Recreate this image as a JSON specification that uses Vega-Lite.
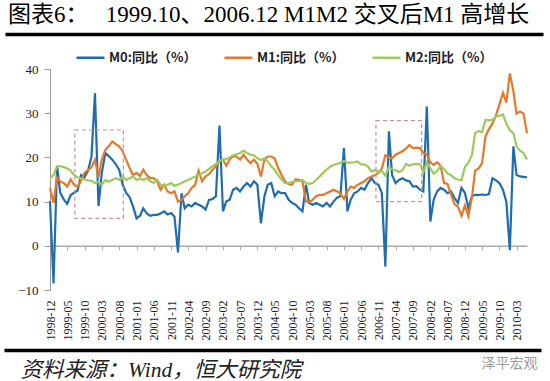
{
  "$schema": "https://vega.github.io/schema/vega-lite/v6.json",
  "width": 477,
  "height": 221,
  "autosize": {"type": "none"},
  "padding": {"left": 50, "top": 69, "right": 23, "bottom": 91},
  "background": "white",
  "config": {"view": {"stroke": null}},
  "title": {
    "text": "图表6：\u00a0\u00a0\u00a01999.10、2006.12 M1M2 交叉后M1 高增长",
    "anchor": "start",
    "frame": "group",
    "dx": -42,
    "offset": 7,
    "font": "Liberation Serif, Noto Sans CJK SC",
    "fontSize": 23,
    "fontWeight": "normal",
    "color": "#000000"
  },
  "datasets": {
    "m": [
      {"d":"1998-12","M0":10.1,"M1":13.0,"M2":15.3},
      {"d":"1999-01","M0":-8.5,"M1":9.7,"M2":16.0},
      {"d":"1999-02","M0":18.1,"M1":15.5,"M2":18.0},
      {"d":"1999-03","M0":12.0,"M1":14.5,"M2":18.0},
      {"d":"1999-04","M0":10.5,"M1":14.2,"M2":17.8},
      {"d":"1999-05","M0":9.5,"M1":13.4,"M2":17.5},
      {"d":"1999-06","M0":11.5,"M1":15.0,"M2":17.0},
      {"d":"1999-07","M0":12.0,"M1":13.8,"M2":16.0},
      {"d":"1999-08","M0":12.5,"M1":13.4,"M2":15.5},
      {"d":"1999-09","M0":16.0,"M1":14.8,"M2":15.2},
      {"d":"1999-10","M0":15.5,"M1":16.5,"M2":15.0},
      {"d":"1999-11","M0":17.0,"M1":17.2,"M2":14.8},
      {"d":"1999-12","M0":20.1,"M1":17.7,"M2":14.7},
      {"d":"2000-01","M0":34.5,"M1":19.5,"M2":14.2},
      {"d":"2000-02","M0":9.0,"M1":15.5,"M2":14.5},
      {"d":"2000-03","M0":16.5,"M1":19.5,"M2":13.8},
      {"d":"2000-04","M0":21.0,"M1":21.7,"M2":14.9},
      {"d":"2000-05","M0":20.3,"M1":22.5,"M2":14.5},
      {"d":"2000-06","M0":19.5,"M1":23.6,"M2":14.9},
      {"d":"2000-07","M0":18.5,"M1":23.0,"M2":15.3},
      {"d":"2000-08","M0":17.2,"M1":22.5,"M2":14.9},
      {"d":"2000-09","M0":13.8,"M1":21.4,"M2":15.7},
      {"d":"2000-10","M0":12.0,"M1":19.5,"M2":14.9},
      {"d":"2000-11","M0":11.0,"M1":17.6,"M2":15.3},
      {"d":"2000-12","M0":8.9,"M1":16.0,"M2":15.7},
      {"d":"2001-01","M0":6.2,"M1":16.5,"M2":14.9},
      {"d":"2001-02","M0":6.8,"M1":15.8,"M2":15.3},
      {"d":"2001-03","M0":8.5,"M1":17.2,"M2":14.9},
      {"d":"2001-04","M0":7.3,"M1":16.0,"M2":15.3},
      {"d":"2001-05","M0":6.8,"M1":15.3,"M2":14.6},
      {"d":"2001-06","M0":7.0,"M1":15.3,"M2":14.2},
      {"d":"2001-07","M0":7.0,"M1":14.6,"M2":14.9},
      {"d":"2001-08","M0":7.3,"M1":12.7,"M2":13.8},
      {"d":"2001-09","M0":7.8,"M1":13.8,"M2":13.4},
      {"d":"2001-10","M0":7.1,"M1":12.3,"M2":13.8},
      {"d":"2001-11","M0":7.4,"M1":11.9,"M2":14.2},
      {"d":"2001-12","M0":6.6,"M1":12.3,"M2":13.6},
      {"d":"2002-01","M0":-1.5,"M1":10.0,"M2":13.8},
      {"d":"2002-02","M0":11.9,"M1":10.4,"M2":14.2},
      {"d":"2002-03","M0":8.5,"M1":11.2,"M2":14.6},
      {"d":"2002-04","M0":9.3,"M1":11.9,"M2":14.9},
      {"d":"2002-05","M0":8.9,"M1":13.1,"M2":15.3},
      {"d":"2002-06","M0":9.7,"M1":13.8,"M2":15.7},
      {"d":"2002-07","M0":9.3,"M1":17.0,"M2":16.0},
      {"d":"2002-08","M0":8.9,"M1":14.6,"M2":16.4},
      {"d":"2002-09","M0":8.2,"M1":15.7,"M2":16.8},
      {"d":"2002-10","M0":10.4,"M1":16.2,"M2":17.4},
      {"d":"2002-11","M0":10.6,"M1":17.2,"M2":18.0},
      {"d":"2002-12","M0":11.2,"M1":18.0,"M2":18.5},
      {"d":"2003-01","M0":27.2,"M1":19.1,"M2":19.2},
      {"d":"2003-02","M0":7.8,"M1":19.5,"M2":19.5},
      {"d":"2003-03","M0":10.0,"M1":18.1,"M2":19.6},
      {"d":"2003-04","M0":10.4,"M1":19.5,"M2":20.0},
      {"d":"2003-05","M0":12.7,"M1":20.3,"M2":20.5},
      {"d":"2003-06","M0":13.1,"M1":20.2,"M2":20.7},
      {"d":"2003-07","M0":12.3,"M1":19.5,"M2":21.0},
      {"d":"2003-08","M0":13.4,"M1":20.6,"M2":21.5},
      {"d":"2003-09","M0":14.2,"M1":19.5,"M2":21.0},
      {"d":"2003-10","M0":13.4,"M1":18.7,"M2":20.6},
      {"d":"2003-11","M0":14.6,"M1":19.5,"M2":20.5},
      {"d":"2003-12","M0":13.8,"M1":18.5,"M2":19.8},
      {"d":"2004-01","M0":5.1,"M1":15.7,"M2":19.4},
      {"d":"2004-02","M0":11.2,"M1":19.5,"M2":19.8},
      {"d":"2004-03","M0":13.8,"M1":20.2,"M2":19.1},
      {"d":"2004-04","M0":14.2,"M1":20.2,"M2":18.0},
      {"d":"2004-05","M0":11.2,"M1":19.8,"M2":17.2},
      {"d":"2004-06","M0":12.3,"M1":17.6,"M2":16.0},
      {"d":"2004-07","M0":11.9,"M1":16.0,"M2":15.0},
      {"d":"2004-08","M0":11.9,"M1":14.6,"M2":14.2},
      {"d":"2004-09","M0":10.4,"M1":14.0,"M2":14.2},
      {"d":"2004-10","M0":9.7,"M1":13.8,"M2":14.4},
      {"d":"2004-11","M0":9.3,"M1":15.0,"M2":14.6},
      {"d":"2004-12","M0":8.5,"M1":14.9,"M2":14.6},
      {"d":"2005-01","M0":7.8,"M1":14.6,"M2":14.9},
      {"d":"2005-02","M0":13.8,"M1":10.0,"M2":14.2},
      {"d":"2005-03","M0":9.7,"M1":9.9,"M2":14.0},
      {"d":"2005-04","M0":9.3,"M1":10.4,"M2":14.2},
      {"d":"2005-05","M0":9.7,"M1":11.2,"M2":14.9},
      {"d":"2005-06","M0":9.3,"M1":11.5,"M2":15.7},
      {"d":"2005-07","M0":8.9,"M1":11.5,"M2":16.5},
      {"d":"2005-08","M0":9.7,"M1":11.9,"M2":17.2},
      {"d":"2005-09","M0":8.9,"M1":12.3,"M2":17.9},
      {"d":"2005-10","M0":10.0,"M1":12.7,"M2":18.3},
      {"d":"2005-11","M0":10.9,"M1":12.3,"M2":18.5},
      {"d":"2005-12","M0":11.2,"M1":11.8,"M2":18.8},
      {"d":"2006-01","M0":22.1,"M1":10.6,"M2":19.2},
      {"d":"2006-02","M0":7.8,"M1":12.3,"M2":18.8},
      {"d":"2006-03","M0":10.4,"M1":13.4,"M2":18.8},
      {"d":"2006-04","M0":11.9,"M1":13.1,"M2":18.9},
      {"d":"2006-05","M0":12.3,"M1":13.8,"M2":19.1},
      {"d":"2006-06","M0":13.1,"M1":14.2,"M2":18.4},
      {"d":"2006-07","M0":12.7,"M1":14.6,"M2":18.4},
      {"d":"2006-08","M0":14.2,"M1":15.3,"M2":17.9},
      {"d":"2006-09","M0":15.3,"M1":15.7,"M2":16.8},
      {"d":"2006-10","M0":14.2,"M1":16.0,"M2":17.1},
      {"d":"2006-11","M0":13.8,"M1":16.5,"M2":16.8},
      {"d":"2006-12","M0":11.9,"M1":17.5,"M2":16.9},
      {"d":"2007-01","M0":-4.7,"M1":20.5,"M2":15.9},
      {"d":"2007-02","M0":25.9,"M1":20.0,"M2":17.8},
      {"d":"2007-03","M0":16.0,"M1":19.8,"M2":17.3},
      {"d":"2007-04","M0":14.2,"M1":20.6,"M2":17.1},
      {"d":"2007-05","M0":14.9,"M1":21.0,"M2":16.7},
      {"d":"2007-06","M0":15.3,"M1":21.4,"M2":17.1},
      {"d":"2007-07","M0":14.8,"M1":22.0,"M2":18.5},
      {"d":"2007-08","M0":14.6,"M1":22.8,"M2":18.1},
      {"d":"2007-09","M0":13.4,"M1":22.1,"M2":18.5},
      {"d":"2007-10","M0":13.5,"M1":22.2,"M2":18.5},
      {"d":"2007-11","M0":12.7,"M1":22.1,"M2":18.5},
      {"d":"2007-12","M0":12.3,"M1":21.0,"M2":16.7},
      {"d":"2008-01","M0":31.5,"M1":20.7,"M2":18.9},
      {"d":"2008-02","M0":5.5,"M1":18.9,"M2":17.5},
      {"d":"2008-03","M0":10.4,"M1":18.3,"M2":16.3},
      {"d":"2008-04","M0":12.3,"M1":18.9,"M2":16.9},
      {"d":"2008-05","M0":13.1,"M1":18.1,"M2":18.1},
      {"d":"2008-06","M0":12.7,"M1":14.2,"M2":17.4},
      {"d":"2008-07","M0":11.9,"M1":14.0,"M2":16.4},
      {"d":"2008-08","M0":12.3,"M1":11.6,"M2":16.0},
      {"d":"2008-09","M0":10.8,"M1":9.4,"M2":15.3},
      {"d":"2008-10","M0":9.7,"M1":8.9,"M2":15.0},
      {"d":"2008-11","M0":13.1,"M1":6.8,"M2":14.8},
      {"d":"2008-12","M0":12.0,"M1":9.1,"M2":17.8},
      {"d":"2009-01","M0":8.5,"M1":6.7,"M2":18.8},
      {"d":"2009-02","M0":11.2,"M1":10.9,"M2":20.5},
      {"d":"2009-03","M0":11.5,"M1":17.0,"M2":25.5},
      {"d":"2009-04","M0":11.5,"M1":17.5,"M2":26.0},
      {"d":"2009-05","M0":11.6,"M1":18.7,"M2":25.7},
      {"d":"2009-06","M0":11.5,"M1":24.8,"M2":28.5},
      {"d":"2009-07","M0":11.7,"M1":26.4,"M2":28.4},
      {"d":"2009-08","M0":15.3,"M1":27.7,"M2":28.5},
      {"d":"2009-09","M0":14.8,"M1":29.5,"M2":29.3},
      {"d":"2009-10","M0":14.2,"M1":32.0,"M2":29.4},
      {"d":"2009-11","M0":12.7,"M1":34.6,"M2":29.7},
      {"d":"2009-12","M0":10.0,"M1":32.4,"M2":27.7},
      {"d":"2010-01","M0":-1.0,"M1":39.0,"M2":26.1},
      {"d":"2010-02","M0":22.5,"M1":35.0,"M2":25.5},
      {"d":"2010-03","M0":16.0,"M1":29.9,"M2":22.5},
      {"d":"2010-04","M0":15.7,"M1":30.4,"M2":21.5},
      {"d":"2010-05","M0":15.6,"M1":29.9,"M2":21.0},
      {"d":"2010-06","M0":15.5,"M1":25.5,"M2":19.5}
    ],
    "box": [
      {"x1":"1999-07-08","x2":"2000-09-07","y1":6.2,"y2":26.2},
      {"x1":"2006-10-10","x2":"2007-11-16","y1":10.0,"y2":28.3}
    ]
  },
  "layer": [
    {
      "data": {"name": "m"},
      "transform": [{"fold": ["M0", "M1", "M2"], "as": ["s", "v"]}],
      "mark": {"type": "line", "strokeWidth": 2.2},
      "encoding": {
        "x": {
          "field": "d", "type": "temporal",
          "scale": {"type": "utc", "domain": [{"year":1998,"month":12,"date":1,"utc":true},{"year":2010,"month":6,"date":1,"utc":true}]},
          "axis": {
            "orient": "bottom", "title": null, "domain": false, "ticks": false, "grid": false,
            "format": "%Y-%m", "labelAngle": -90, "labelPadding": 10,
            "labelFont": "Liberation Serif", "labelFontSize": 12, "labelColor": "#222222", "labelOverlap": false,
            "values": [
              {"year":1998,"month":12,"date":1,"utc":true},{"year":1999,"month":5,"date":1,"utc":true},{"year":1999,"month":10,"date":1,"utc":true},
              {"year":2000,"month":3,"date":1,"utc":true},{"year":2000,"month":8,"date":1,"utc":true},{"year":2001,"month":1,"date":1,"utc":true},
              {"year":2001,"month":6,"date":1,"utc":true},{"year":2001,"month":11,"date":1,"utc":true},{"year":2002,"month":4,"date":1,"utc":true},
              {"year":2002,"month":9,"date":1,"utc":true},{"year":2003,"month":2,"date":1,"utc":true},{"year":2003,"month":7,"date":1,"utc":true},
              {"year":2003,"month":12,"date":1,"utc":true},{"year":2004,"month":5,"date":1,"utc":true},{"year":2004,"month":10,"date":1,"utc":true},
              {"year":2005,"month":3,"date":1,"utc":true},{"year":2005,"month":8,"date":1,"utc":true},{"year":2006,"month":1,"date":1,"utc":true},
              {"year":2006,"month":6,"date":1,"utc":true},{"year":2006,"month":11,"date":1,"utc":true},{"year":2007,"month":4,"date":1,"utc":true},
              {"year":2007,"month":9,"date":1,"utc":true},{"year":2008,"month":2,"date":1,"utc":true},{"year":2008,"month":7,"date":1,"utc":true},
              {"year":2008,"month":12,"date":1,"utc":true},{"year":2009,"month":5,"date":1,"utc":true},{"year":2009,"month":10,"date":1,"utc":true},
              {"year":2010,"month":3,"date":1,"utc":true}
            ]
          }
        },
        "y": {
          "field": "v", "type": "quantitative",
          "scale": {"domain": [-10, 40], "nice": false, "zero": false},
          "axis": {
            "title": null, "grid": false, "values": [-10, -5, 0, 5, 10, 15, 20, 25, 30, 35, 40],
            "domainColor": "#999999", "tickColor": "#999999", "tickSize": 6, "labelPadding": 6,
            "labelFont": "Liberation Serif", "labelFontSize": 13, "labelColor": "#222222"
          }
        },
        "color": {
          "field": "s", "type": "nominal",
          "scale": {"domain": ["M0", "M1", "M2"], "range": ["#1f6cae", "#e4782b", "#9cca5c"]},
          "legend": {
            "orient": "none", "legendX": 25, "legendY": -27, "direction": "horizontal", "title": null,
            "symbolType": "stroke", "symbolSize": 784, "symbolStrokeWidth": 2.5,
            "labelFont": "Noto Sans CJK SC", "labelFontSize": 13, "labelFontWeight": "bold", "labelColor": "#222222",
            "labelOffset": 3, "columnPadding": 22, "gridAlign": "all",
            "labelExpr": "datum.label + ':同比（%）'"
          }
        }
      }
    },
    {
      "data": {"name": "box"},
      "mark": {"type": "rect", "fillOpacity": 0, "stroke": "#cf8e99", "strokeWidth": 1.2, "strokeDash": [4, 3]},
      "encoding": {
        "x": {
          "field": "x1", "type": "temporal",
          "scale": {"type": "utc", "domain": [{"year":1998,"month":12,"date":1,"utc":true},{"year":2010,"month":6,"date":1,"utc":true}]},
          "axis": {
            "orient": "top", "offset": -176.8, "title": null, "labels": false, "grid": false,
            "ticks": true, "tickSize": -4, "tickColor": "#aaaaaa", "domainColor": "#aaaaaa", "domainWidth": 1.5,
            "values": [
              {"year":1998,"month":12,"date":1,"utc":true},{"year":1999,"month":5,"date":1,"utc":true},{"year":1999,"month":10,"date":1,"utc":true},
              {"year":2000,"month":3,"date":1,"utc":true},{"year":2000,"month":8,"date":1,"utc":true},{"year":2001,"month":1,"date":1,"utc":true},
              {"year":2001,"month":6,"date":1,"utc":true},{"year":2001,"month":11,"date":1,"utc":true},{"year":2002,"month":4,"date":1,"utc":true},
              {"year":2002,"month":9,"date":1,"utc":true},{"year":2003,"month":2,"date":1,"utc":true},{"year":2003,"month":7,"date":1,"utc":true},
              {"year":2003,"month":12,"date":1,"utc":true},{"year":2004,"month":5,"date":1,"utc":true},{"year":2004,"month":10,"date":1,"utc":true},
              {"year":2005,"month":3,"date":1,"utc":true},{"year":2005,"month":8,"date":1,"utc":true},{"year":2006,"month":1,"date":1,"utc":true},
              {"year":2006,"month":6,"date":1,"utc":true},{"year":2006,"month":11,"date":1,"utc":true},{"year":2007,"month":4,"date":1,"utc":true},
              {"year":2007,"month":9,"date":1,"utc":true},{"year":2008,"month":2,"date":1,"utc":true},{"year":2008,"month":7,"date":1,"utc":true},
              {"year":2008,"month":12,"date":1,"utc":true},{"year":2009,"month":5,"date":1,"utc":true},{"year":2009,"month":10,"date":1,"utc":true},
              {"year":2010,"month":3,"date":1,"utc":true}
            ]
          }
        },
        "x2": {"field": "x2"},
        "y": {"field": "y1", "type": "quantitative"},
        "y2": {"field": "y2"}
      }
    },
    {
      "data": {"name": "box"},
      "mark": {"type": "rule", "opacity": 0},
      "encoding": {
        "x": {
          "field": "x1", "type": "temporal",
          "scale": {"type": "utc", "domain": [{"year":1998,"month":12,"date":1,"utc":true},{"year":2010,"month":6,"date":1,"utc":true}], "range": [-45, 493]},
          "axis": {
            "orient": "bottom", "offset": -256, "labels": false, "ticks": false, "grid": false, "domain": true,
            "domainColor": "#000000", "domainWidth": 3.5,
            "title": "泽平宏观", "titleX": 431, "titleY": 329, "titleAlign": "left", "titleBaseline": "middle",
            "titleAngle": 0, "titleColor": "#9a9a9a", "titleFont": "Noto Sans CJK SC", "titleFontSize": 14, "titleFontWeight": "normal"
          }
        }
      }
    },
    {
      "data": {"name": "box"},
      "mark": {"type": "rule", "opacity": 0},
      "encoding": {
        "x": {
          "field": "x2", "type": "temporal",
          "scale": {"type": "utc", "domain": [{"year":1998,"month":12,"date":1,"utc":true},{"year":2010,"month":6,"date":1,"utc":true}], "range": [-46, 491]},
          "axis": {
            "orient": "bottom", "offset": 60, "labels": false, "ticks": false, "grid": false, "domain": true,
            "domainColor": "#000000", "domainWidth": 3.5,
            "title": "资料来源：Wind，恒大研究院", "titleX": -30, "titleY": 20, "titleAlign": "left", "titleBaseline": "middle",
            "titleAngle": 0, "titleColor": "#222222", "titleFont": "Liberation Serif, Noto Sans CJK SC", "titleFontSize": 21.5,
            "titleFontWeight": "normal", "titleFontStyle": "italic"
          }
        }
      }
    }
  ],
  "resolve": {"scale": {"x": "independent"}, "axis": {"x": "independent"}}
}
